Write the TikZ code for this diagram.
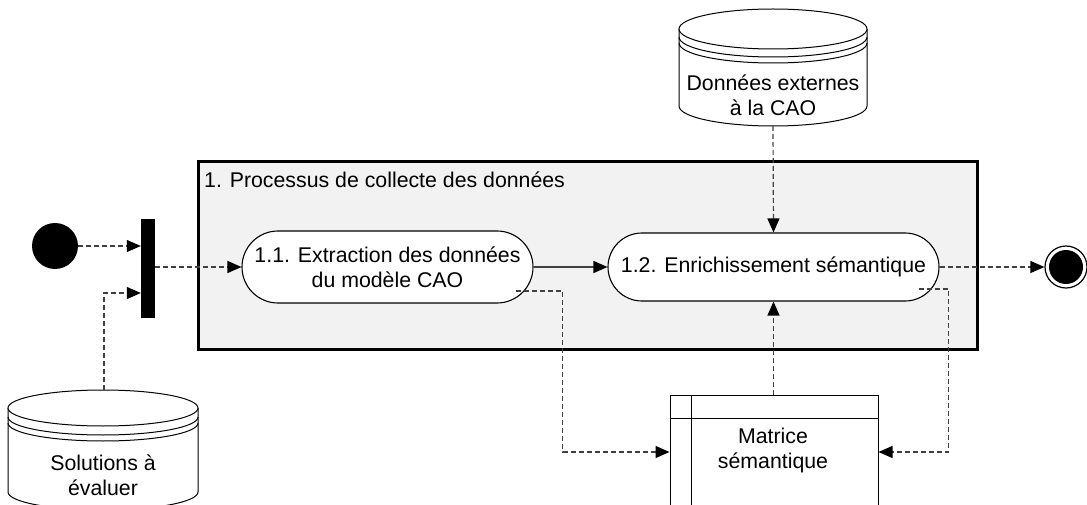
\documentclass[tikz,border=0pt]{standalone}
\usepackage{fontspec}
\setmainfont{Liberation Sans}
\usetikzlibrary{arrows.meta,shapes.misc,calc}
\definecolor{procfill}{HTML}{F2F2F2}
\definecolor{linegray}{HTML}{404040}
\begin{document}
\begin{tikzpicture}[x=1pt,y=-1pt,
  txt/.style={font=\fontsize{21.3}{25}\selectfont, align=center, inner sep=0pt},
  act/.style={rounded rectangle, draw=black, fill=white, line width=1.1pt, txt},
  tip/.style={-{Triangle[length=14pt,width=12pt,color=black]}},
  dsh/.style={draw=linegray, line width=1.2pt, dash pattern=on 5pt off 3pt, tip},
  sld/.style={draw=linegray, line width=1.2pt, tip},
  cyl/.style={draw=black, line width=1pt, fill=white},
  arcb/.style={x radius=#1pt, y radius=20pt, start angle=180, end angle=360},
]
\useasboundingbox (0,0) rectangle (1087,505);

% process frame
\node[draw=black, line width=3pt, fill=procfill, minimum width=779pt, minimum height=187pt, inner sep=0pt] (proc) at (587.5,255.5) {};
\node[txt, anchor=west] (proclabel) at (204,180) {1. Processus de collecte des données};

% activities
\node[act, minimum width=291pt, minimum height=72pt] (n11) at (387.5,267) {1.1. Extraction des données\\du modèle CAO};
\node[act, minimum width=331pt, minimum height=68pt] (n12) at (773.5,267) {1.2. Enrichissement sémantique};

% start, fork, end
\node[circle, fill=black, minimum size=46pt, inner sep=0pt] (start) at (55,246) {};
\node[fill=black, minimum width=14pt, minimum height=99pt, inner sep=0pt] (fork) at (148,268.5) {};
\node[circle, draw=black, line width=1.2pt, fill=white, minimum size=42pt, inner sep=0pt] (final) at (1066,267) {};
\fill[black] (final.center) circle (17pt);

% cylinder: Donnees externes
\draw[cyl] (679,29) -- (679,106) arc[start angle=180, end angle=360, x radius=94pt, y radius=20pt] -- (867,29);
\draw[cyl] (773,29) ellipse [x radius=94pt, y radius=20pt];
\draw[line width=1pt] (679,37) arc[start angle=180, end angle=360, x radius=94pt, y radius=20pt];
\draw[line width=1pt] (679,43) arc[start angle=180, end angle=360, x radius=94pt, y radius=20pt];
\node[txt] (dbx) at (773,95.5) {Données externes\\à la CAO};
\coordinate (dbxbot) at (773,126);

% cylinder: Solutions
\draw[cyl] (8,408) -- (8,492) arc[start angle=180, end angle=360, x radius=95pt, y radius=18pt] -- (198,408);
\draw[cyl] (103,408) ellipse [x radius=95pt, y radius=18pt];
\draw[line width=1pt] (8,417) arc[start angle=180, end angle=360, x radius=95pt, y radius=18pt];
\draw[line width=1pt] (8,423) arc[start angle=180, end angle=360, x radius=95pt, y radius=18pt];
\node[txt] (sol) at (103,475.5) {Solutions à\\évaluer};
\coordinate (soltop) at (104,390);

% matrice
\node[draw=black, line width=1pt, fill=white, minimum width=208pt, minimum height=150pt, inner sep=0pt, anchor=north] (mat) at (774,395) {};
\draw[line width=1pt] ($(mat.north west)+(22,0)$) -- ++(0,150);
\draw[line width=1pt] ($(mat.north west)+(0,23)$) -- ($(mat.north east)+(0,23)$);
\node[txt] (mattxt) at (773,450.5) {Matrice\\sémantique};

% connectors
\draw[dsh] (start.east) -- (start.east -| fork.west);
\draw[dsh] (soltop) |- ($(fork.west)+(0,24.5)$);
\draw[dsh] (fork.east |- n11.west) -- (n11.west);
\draw[sld] (n11.east) -- (n12.west);
\draw[dsh] (n12.east) -- (final.west);
\draw[dsh] (dbxbot) -- (n12.north);
\draw[dsh] (mat.north -| n12.south) -- (n12.south);
\draw[dsh] ($(n11.east)+(-18,24)$) -- ++(47,0) |- ($(mat.north west)+(0,57)$);
\draw[dsh] ($(n12.east)+(-21,22)$) -- ++(30,0) |- ($(mat.north east)+(0,57)$);
\end{tikzpicture}
\end{document}
